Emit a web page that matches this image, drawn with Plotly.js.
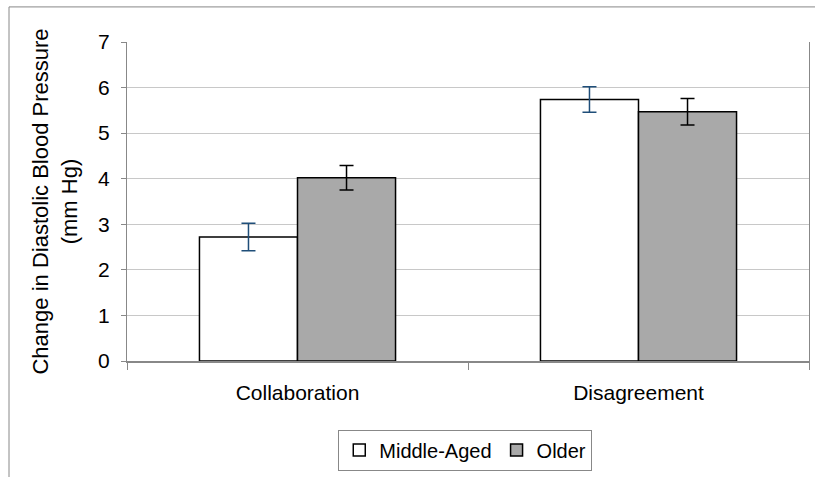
<!DOCTYPE html>
<html><head><meta charset="utf-8">
<script src="https://cdn.plot.ly/plotly-3.0.1.min.js"></script>
<style>body{margin:0;background:#fff}#c{width:815px;height:477px}</style>
</head><body><div id="c"></div>
<script>
const categories = ["Collaboration", "Disagreement"];
const middleAged = [2.72, 5.74];
const middleAgedErr = [0.30, 0.28];
const older = [4.02, 5.47];
const olderErr = [0.27, 0.29];
const yTicks = [0, 1, 2, 3, 4, 5, 6, 7];

const font = {family: "Liberation Sans, Arial, sans-serif", size: 21, color: "#000"};
const traces = [
  {type: "bar", name: "Middle-Aged", x: categories, y: middleAged,
   marker: {color: "#ffffff", line: {color: "#000", width: 1.5}},
   error_y: {type: "data", array: middleAgedErr, visible: true, color: "#1f4e79", thickness: 1.5, width: 7}},
  {type: "bar", name: "Older", x: categories, y: older,
   marker: {color: "#a9a9a9", line: {color: "#000", width: 1.5}},
   error_y: {type: "data", array: olderErr, visible: true, color: "#000", thickness: 1.5, width: 7}}
];
const layout = {
  width: 815, height: 477,
  margin: {l: 127, r: 6, t: 42, b: 116},
  paper_bgcolor: "#fff", plot_bgcolor: "#fff",
  font: font,
  barmode: "group", bargap: 0.425, bargroupgap: 0,
  showlegend: true,
  legend: {orientation: "h", x: 0.496, xanchor: "center", y: -0.215, yanchor: "top",
    bordercolor: "#888", borderwidth: 1, font: {family: font.family, size: 20, color: "#000"},
    traceorder: "normal", itemwidth: 30, tracegroupgap: 0},
  xaxis: {type: "category", showgrid: false, showline: true, linecolor: "#888", linewidth: 1.5,
    ticks: "outside", tickson: "boundaries", ticklen: 7, tickcolor: "#888",
    ticklabelstandoff: 12, tickfont: font, zeroline: false},
  yaxis: {range: [0, 7], tickvals: yTicks, ticks: "outside", ticklen: 5, tickcolor: "#888",
    ticklabelstandoff: 7,
    showline: true, linecolor: "#888", mirror: true, showgrid: true, gridcolor: "#c8c8c8",
    zeroline: false, tickfont: font,
    title: {text: "Change in Diastolic Blood Pressure<br>(mm Hg)", font: {family: font.family, size: 22, color: "#000"}, standoff: 14}},
  shapes: [{type: "rect", xref: "paper", yref: "paper", x0: -0.173, x1: 1.05, y0: -0.4, y1: 1.11,
    line: {color: "#888", width: 1}, fillcolor: "rgba(0,0,0,0)", layer: "below"}]
};
Plotly.newPlot("c", traces, layout, {displayModeBar: false, staticPlot: true});
</script></body></html>
